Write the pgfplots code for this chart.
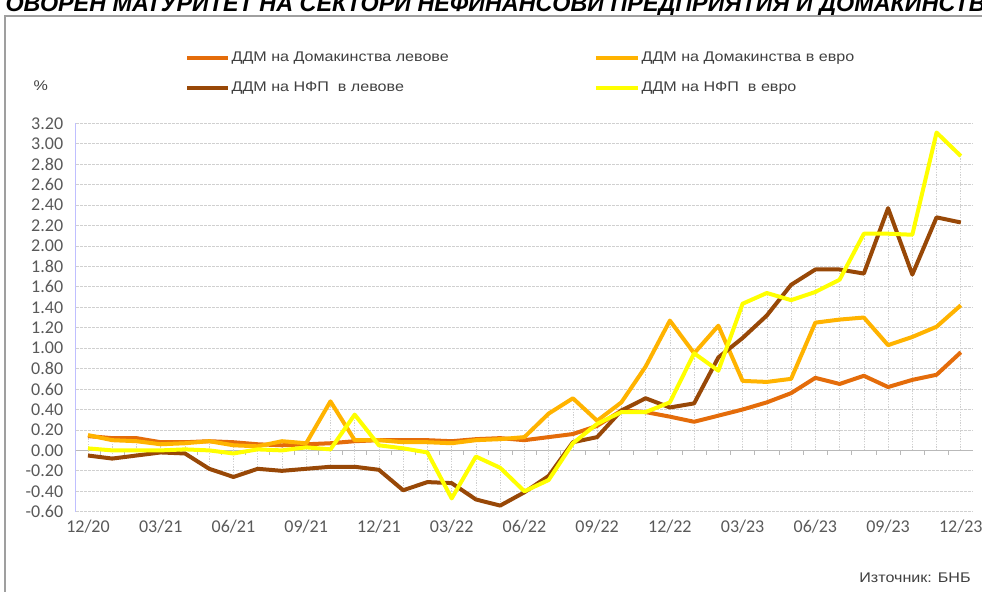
\documentclass[border=0pt]{standalone}
\usepackage{pgfplots}
\pgfplotsset{compat=1.18}
\usepackage{pgfplotstable}
\usepackage{fontspec}
\setmainfont{Liberation Sans}
\newfontfamily\legfont[FakeStretch=1.15]{Liberation Sans}
\newfontfamily\tickfont{Carlito}
\definecolor{cA}{HTML}{E46C0A}
\definecolor{cB}{HTML}{FFB300}
\definecolor{cC}{HTML}{984807}
\definecolor{cD}{HTML}{FFFF00}
\definecolor{txt}{HTML}{404040}
\definecolor{tickc}{HTML}{595959}
\definecolor{gridc}{HTML}{D0D0D0}
\pgfplotstableread{
i A B C D
0 0.14 0.15 -0.05 0.02
1 0.12 0.10 -0.08 0.00
2 0.12 0.09 -0.05 0.00
3 0.08 0.06 -0.02 0.00
4 0.08 0.07 -0.03 0.01
5 0.09 0.09 -0.18 0.00
6 0.08 0.05 -0.26 -0.03
7 0.06 0.04 -0.18 0.01
8 0.05 0.09 -0.20 0.00
9 0.06 0.07 -0.18 0.03
10 0.07 0.48 -0.16 0.01
11 0.09 0.10 -0.16 0.35
12 0.10 0.10 -0.19 0.05
13 0.10 0.08 -0.39 0.02
14 0.10 0.08 -0.31 -0.02
15 0.09 0.07 -0.32 -0.47
16 0.11 0.10 -0.48 -0.06
17 0.12 0.11 -0.54 -0.17
18 0.10 0.13 -0.41 -0.40
19 0.13 0.36 -0.25 -0.29
20 0.16 0.51 0.08 0.07
21 0.24 0.29 0.13 0.26
22 0.39 0.47 0.39 0.375
23 0.375 0.82 0.51 0.375
24 0.33 1.27 0.42 0.47
25 0.28 0.95 0.46 0.95
26 0.34 1.22 0.91 0.78
27 0.40 0.68 1.10 1.435
28 0.47 0.67 1.32 1.54
29 0.56 0.70 1.62 1.47
30 0.71 1.25 1.77 1.55
31 0.65 1.28 1.77 1.67
32 0.73 1.30 1.73 2.12
33 0.62 1.03 2.37 2.12
34 0.69 1.11 1.72 2.11
35 0.74 1.21 2.28 3.11
36 0.96 1.42 2.23 2.88
}\data
\begin{document}
\begin{tikzpicture}
\useasboundingbox (0,0) rectangle (736.5pt,444pt);
\clip (0,0) rectangle (736.5pt,444pt);
% title (cut at top as in the source)
\node[anchor=base west, inner sep=0, text=black] at (4pt,435.5pt)
  {\fontsize{17.5}{20}\selectfont\bfseries\itshape\llap{ПО ДОГ}ОВОРЕН МАТУРИТЕТ НА СЕКТОРИ НЕФИНАНСОВИ ПРЕДПРИЯТИЯ И ДОМАКИНСТВА};
% frame
\draw[color=gray!75, line width=0.8pt] (3.75pt,-10pt) rectangle (760pt,432pt);
\begin{axis}[
  at={(56.9pt,60.2pt)}, anchor=south west, scale only axis,
  width=672.8pt, height=291.3pt,
  xmin=-0.5, xmax=36.5, ymin=-0.6, ymax=3.2,
  separate axis lines,
  axis x line*=bottom, axis y line*=left,
  x axis line style={draw=none},
  y axis line style={draw=blue!25, line width=0.6pt},
  major tick length=0pt,
  xtick={0,3,...,36},
  xticklabels={12/20,03/21,06/21,09/21,12/21,03/22,06/22,09/22,12/22,03/23,06/23,09/23,12/23},
  ytick={-0.6,-0.4,-0.2,0,0.2,0.4,0.6,0.8,1.0,1.2,1.4,1.6,1.8,2.0,2.2,2.4,2.6,2.8,3.0,3.2},
  yticklabels={-0.60,-0.40,-0.20,0.00,0.20,0.40,0.60,0.80,1.00,1.20,1.40,1.60,1.80,2.00,2.20,2.40,2.60,2.80,3.00,3.20},
  ymajorgrids,
  major grid style={gridc, dash pattern=on 2pt off 1pt, line width=0.6pt},
  tick label style={font=\tickfont\fontsize{13.5}{14}\selectfont, text=tickc},
  yticklabel style={xshift=-6pt},
  xticklabel style={yshift=-3pt},
  extra y ticks={0}, extra y tick labels={},
  extra y tick style={grid=major, major grid style={solid, gray!55, line width=0.8pt}},
  line join=round,
]
\addplot[ycomb, gridc, dash pattern=on 1pt off 1pt, line width=0.5pt, forget plot] table[x=i,y=A]{\data};
\addplot[ycomb, gridc, dash pattern=on 1pt off 1pt, line width=0.5pt, forget plot] table[x=i,y=B]{\data};
\addplot[ycomb, gridc, dash pattern=on 1pt off 1pt, line width=0.5pt, forget plot] table[x=i,y=C]{\data};
\addplot[ycomb, gridc, dash pattern=on 1pt off 1pt, line width=0.5pt, forget plot] table[x=i,y=D]{\data};
\pgfplotsinvokeforeach{-0.5,0.5,...,36.5}{\draw[gray!55, line width=0.6pt] (axis cs:#1,0) -- ([yshift=-3.5pt]axis cs:#1,0);}
\addplot[cA, line width=3pt, no markers] table[x=i,y=A]{\data};
\addplot[cB, line width=3pt, no markers] table[x=i,y=B]{\data};
\addplot[cC, line width=3pt, no markers] table[x=i,y=C]{\data};
\addplot[cD, line width=3pt, no markers] table[x=i,y=D]{\data};
\end{axis}
% legend
\begin{scope}[every node/.style={anchor=west, inner sep=0, text=txt, font=\legfont\fontsize{10.5}{12}\selectfont}]
\draw[cA, line width=3pt] (140.25pt,400.5pt) -- (171pt,400.5pt);
\node at (173.5pt,400.5pt) {ДДМ на Домакинства левове};
\draw[cB, line width=3pt] (447pt,400.5pt) -- (478.5pt,400.5pt);
\node at (481pt,400.5pt) {ДДМ на Домакинства в евро};
\draw[cC, line width=3pt] (140.25pt,378pt) -- (171pt,378pt);
\node at (173.5pt,378pt) {ДДМ на НФП\ \ в левове};
\draw[cD, line width=3pt] (447pt,378pt) -- (478.5pt,378pt);
\node at (481pt,378pt) {ДДМ на НФП\ \ в евро};
\end{scope}
\node[text=txt, font=\legfont\fontsize{10.5}{12}\selectfont] at (30.5pt,380pt) {\%};
\node[anchor=east, text=txt, font=\legfont\fontsize{10.5}{12}\selectfont] at (731.5pt,10.5pt) {Източник: БНБ};
\end{tikzpicture}
\end{document}
